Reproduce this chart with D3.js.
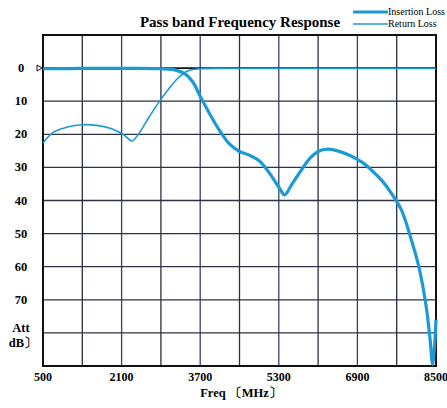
<!DOCTYPE html>
<html>
<head>
<meta charset="utf-8">
<script src="https://cdn.jsdelivr.net/npm/d3@7"></script>
<style>
  body { margin: 0; background: #fff; }
  text { font-family: "Liberation Serif", "DejaVu Serif", serif; }
</style>
</head>
<body>
<div id="chart"></div>
<script>
// data
var xTicks = [500, 2100, 3700, 5300, 6900, 8500];
var yTicks = [0, 10, 20, 30, 40, 50, 60, 70];

var ilFreq = [500, 1300, 2100, 2900, 3200, 3400, 3550, 3700, 3900, 4100, 4300, 4500, 4700, 4900, 5100, 5300, 5420, 5550, 5750, 5950, 6100, 6300, 6500, 6750, 7000, 7200, 7400, 7600, 7800, 8000, 8150, 8300, 8380, 8430, 8470, 8500];
var ilVal  = [0.2, 0.1, 0.1, 0.2, 0.6, 1.8, 4.2, 8.5, 14, 19, 23, 25.2, 26.3, 28, 31.5, 36, 38.3, 35.5, 31, 27, 25.2, 24.5, 25, 26.4, 28.5, 31, 34, 38, 43, 52, 60, 72, 82, 89.5, 84, 76];

var rlFreq = [500, 700, 1000, 1300, 1600, 1900, 2150, 2310, 2450, 2650, 2850, 3050, 3250, 3450, 3700, 4500, 6000, 8500];
var rlVal  = [22.7, 19.5, 17.8, 17.1, 17.3, 18.3, 20.2, 22, 19.8, 15, 10.5, 6.5, 3, 0.8, 0.2, 0.1, 0.1, 0.1];

var blue = "#1b9ad6";
var width = 447, height = 408;
var margin = {left: 43, right: 11, top: 35, bottom: 42};

var svg = d3.select("#chart").append("svg")
    .attr("width", width)
    .attr("height", height);

var x = d3.scaleLinear().domain([500, 8500]).range([margin.left, width - margin.right]);
var y = d3.scaleLinear().domain([-10, 90]).range([margin.top, height - margin.bottom]);

// grid
var grid = svg.append("g");
grid.selectAll(".vx").data(d3.range(500, 8501, 800)).enter().append("line")
    .attr("x1", function(d) { return x(d); })
    .attr("x2", function(d) { return x(d); })
    .attr("y1", y(-10)).attr("y2", y(90))
    .attr("stroke", function(d, i) { return i % 2 ? "#2a2f45" : "#3a3f6a"; })
    .attr("stroke-width", 1.3);
grid.selectAll(".hy").data(d3.range(-10, 91, 10)).enter().append("line")
    .attr("y1", function(d) { return y(d); })
    .attr("y2", function(d) { return y(d); })
    .attr("x1", x(500)).attr("x2", x(8500))
    .attr("stroke", function(d) { return d === 0 ? "#111" : "#2e3245"; })
    .attr("stroke-width", function(d) { return d === 0 ? 1.6 : 1.3; });

// border
svg.append("rect")
    .attr("x", x(500)).attr("y", y(-10))
    .attr("width", x(8500) - x(500)).attr("height", y(90) - y(-10))
    .attr("fill", "none").attr("stroke", "#111").attr("stroke-width", 2);

// little marker at 0
svg.append("path")
    .attr("d", "M" + (x(500) - 6) + "," + (y(0) - 3) + "L" + (x(500) - 1) + "," + y(0) + "L" + (x(500) - 6) + "," + (y(0) + 3) + "Z")
    .attr("fill", "none").attr("stroke", "#111").attr("stroke-width", 1);

var line = d3.line()
    .x(function(d) { return x(d[0]); })
    .y(function(d) { return y(d[1]); })
    .curve(d3.curveCatmullRom.alpha(0.5));

svg.append("path")
    .datum(d3.zip(rlFreq, rlVal))
    .attr("d", line)
    .attr("fill", "none").attr("stroke", blue).attr("stroke-width", 1.6);

svg.append("path")
    .datum(d3.zip(ilFreq, ilVal))
    .attr("d", line)
    .attr("fill", "none").attr("stroke", blue).attr("stroke-width", 3.2);

// tick labels
svg.selectAll(".xt").data(xTicks).enter().append("text")
    .attr("x", function(d) { return x(d); })
    .attr("y", 381)
    .attr("text-anchor", "middle")
    .attr("font-size", 12).attr("font-weight", "bold")
    .text(function(d) { return d; });

svg.selectAll(".yt").data(yTicks).enter().append("text")
    .attr("x", 21)
    .attr("y", function(d) { return y(d) + 4; })
    .attr("text-anchor", "middle")
    .attr("font-size", 12.5).attr("font-weight", "bold")
    .text(function(d) { return d; });

svg.append("text").attr("x", 21).attr("y", 332)
    .attr("text-anchor", "middle").attr("font-size", 12.5).attr("font-weight", "bold")
    .text("Att");
svg.append("text").attr("x", 23).attr("y", 347)
    .attr("text-anchor", "middle").attr("font-size", 12.5).attr("font-weight", "bold")
    .text("dB〕");

svg.append("text").attr("x", 241).attr("y", 397)
    .attr("text-anchor", "middle").attr("font-size", 12.5).attr("font-weight", "bold")
    .text("Freq 〔MHz〕");

// title
svg.append("text").attr("x", 240).attr("y", 27)
    .attr("text-anchor", "middle").attr("font-size", 15).attr("font-weight", "bold")
    .text("Pass band Frequency Response");

// legend
var legend = [{name: "Insertion Loss", w: 3.2, y: 12}, {name: "Return Loss", w: 1.6, y: 24}];
var lg = svg.selectAll(".lg").data(legend).enter().append("g");
lg.append("line")
    .attr("x1", 353).attr("x2", 388)
    .attr("y1", function(d) { return d.y; }).attr("y2", function(d) { return d.y; })
    .attr("stroke", blue).attr("stroke-width", function(d) { return d.w; });
lg.append("text")
    .attr("x", 388).attr("y", function(d) { return d.y + 3; })
    .attr("font-size", 10)
    .text(function(d) { return d.name; });
</script>
</body>
</html>
